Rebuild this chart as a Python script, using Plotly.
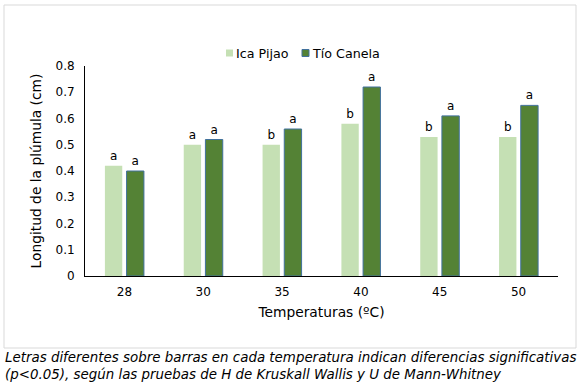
import plotly.graph_objects as go

categories = ["28", "30", "35", "40", "45", "50"]
ica_pijao = [0.42, 0.50, 0.50, 0.58, 0.53, 0.53]
tio_canela = [0.40, 0.52, 0.56, 0.72, 0.61, 0.65]
ica_letters = ["a", "a", "b", "b", "b", "b"]
tio_letters = ["a", "a", "a", "a", "a", "a"]
series_names = ["Ica Pijao", "Tío Canela"]
y_ticks = [0, 0.1, 0.2, 0.3, 0.4, 0.5, 0.6, 0.7, 0.8]
y_tick_labels = ["0", "0.1", "0.2", "0.3", "0.4", "0.5", "0.6", "0.7", "0.8"]

FONT = "DejaVu Sans"
W, H = 582, 386
L, R, T, B = 85, 24, 66, 110
pw = W - L - R
ph = H - T - B
LIGHT = "#c5e0b4"
DARK = "#548235"
EDGE = "#41719c"

def px(x):
    return (x - L) / pw

def py(y):
    return (H - B - y) / ph

fig = go.Figure()
fig.add_trace(go.Bar(
    name=series_names[0], x=categories, y=ica_pijao, showlegend=False,
    marker=dict(color=LIGHT, line=dict(width=0)),
    text=ica_letters, textposition="outside", cliponaxis=False,
    textfont=dict(family=FONT, size=12, color="#000000"),
))
fig.add_trace(go.Bar(
    name=series_names[1], x=categories, y=tio_canela, showlegend=False,
    marker=dict(color=DARK, line=dict(color=EDGE, width=1)),
    text=tio_letters, textposition="outside", cliponaxis=False,
    textfont=dict(family=FONT, size=12, color="#000000"),
))

# legend drawn as small squares + labels (Excel-style compact legend)
legend_items = [(226, LIGHT, None), (302, DARK, EDGE)]
shapes = [dict(type="rect", xref="paper", yref="paper",
               x0=px(4), x1=px(576), y0=py(5), y1=py(348),
               line=dict(color="#d9d9d9", width=1), layer="below")]
annotations = []
for (lx, col, edge), name in zip(legend_items, series_names):
    shapes.append(dict(type="rect", xref="paper", yref="paper",
                       x0=px(lx), x1=px(lx + 7), y0=py(49.5), y1=py(56.5),
                       fillcolor=col,
                       line=dict(color=edge if edge else col, width=1 if edge else 0)))
    annotations.append(dict(xref="paper", yref="paper", x=px(lx + 8), y=py(53),
                            xanchor="left", yanchor="middle", showarrow=False,
                            text=name, font=dict(family=FONT, size=12.7, color="#000000")))

annotations.append(dict(
    xref="paper", yref="paper", x=px(3), y=py(365.5), xanchor="left", yanchor="middle",
    align="left", showarrow=False,
    text="Letras diferentes sobre barras en cada temperatura indican diferencias significativas<br>(p<0.05), según las pruebas de H de Kruskall Wallis y U de Mann-Whitney",
    font=dict(family=FONT, size=13.4, color="#000000", style="italic"),
))

fig.update_layout(
    width=W, height=H,
    margin=dict(l=L, r=R, t=T, b=B),
    paper_bgcolor="white", plot_bgcolor="white",
    font=dict(family=FONT, size=12, color="#000000"),
    barmode="group", bargap=0.45, bargroupgap=0.2,
    showlegend=False,
    xaxis=dict(type="category", showline=True, linecolor="#000000", linewidth=1,
               ticks="outside", ticklen=5, tickcolor="rgba(0,0,0,0)", showgrid=False,
               tickfont=dict(size=12),
               title=dict(text="Temperaturas (ºC)", font=dict(size=13.8), standoff=8)),
    yaxis=dict(range=[0, 0.8], tickvals=y_ticks, ticktext=y_tick_labels,
               showline=True, linecolor="#000000", linewidth=1,
               ticks="outside", ticklen=7, tickcolor="rgba(0,0,0,0)",
               showgrid=False, zeroline=False, tickfont=dict(size=12),
               title=dict(text="Longitud de la plúmula (cm)", font=dict(size=13.8), standoff=10)),
    shapes=shapes,
    annotations=annotations,
)

fig.write_html("out.html", config={"displayModeBar": False},
               post_script="document.body.style.margin='0';document.body.style.overflow='hidden';")
